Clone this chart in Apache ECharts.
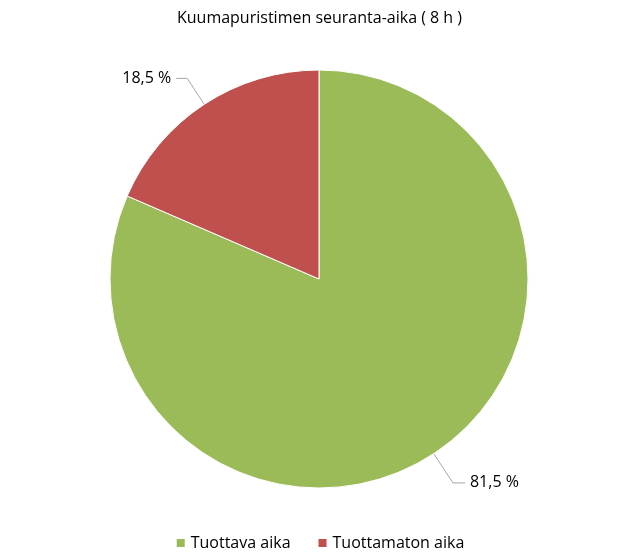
<!DOCTYPE html>
<html>
<head>
<meta charset="utf-8">
<script src="https://cdn.jsdelivr.net/npm/echarts@6/dist/echarts.min.js"></script>
<style>
  html, body { margin: 0; padding: 0; background: #fff; }
  #chart { width: 639px; height: 559px; }
</style>
</head>
<body>
<div id="chart"></div>
<script>
// data
const categories = ['Tuottava aika', 'Tuottamaton aika'];
const shares = [81.5, 18.5];
const colors = ['#9BBB59', '#C0504D'];

const chart = echarts.init(document.getElementById('chart'));

const font = "'Open Sans', 'Liberation Sans', sans-serif";
// leader line lengths per slice
const leaders = [
  { length: 35, length2: 12 },
  { length: 31, length2: 11 }
];

chart.setOption({
  animation: false,
  color: colors,
  title: {
    text: 'Kuumapuristimen seuranta-aika ( 8 h )',
    left: 'center',
    top: 5,
    textStyle: { fontFamily: font, fontSize: 16, fontWeight: 'normal', color: '#000' }
  },
  legend: {
    data: categories,
    bottom: 3,
    left: 'center',
    icon: 'rect',
    itemWidth: 10,
    itemHeight: 10,
    itemGap: 26,
    textStyle: { fontFamily: font, fontSize: 16, color: '#000' }
  },
  series: [{
    type: 'pie',
    center: [319, 279],
    radius: 209,
    startAngle: 90,
    clockwise: true,
    itemStyle: { borderColor: '#fff', borderWidth: 1 },
    label: {
      show: true,
      position: 'outside',
      fontFamily: font,
      fontSize: 16,
      color: '#000',
      formatter: p => p.value.toFixed(1).replace('.', ',') + ' %'
    },
    labelLine: {
      show: true,
      lineStyle: { color: '#a6a6a6', width: 1 }
    },
    emphasis: { disabled: true },
    data: categories.map((c, i) => ({ name: c, value: shares[i], labelLine: leaders[i] }))
  }]
});
</script>
</body>
</html>
